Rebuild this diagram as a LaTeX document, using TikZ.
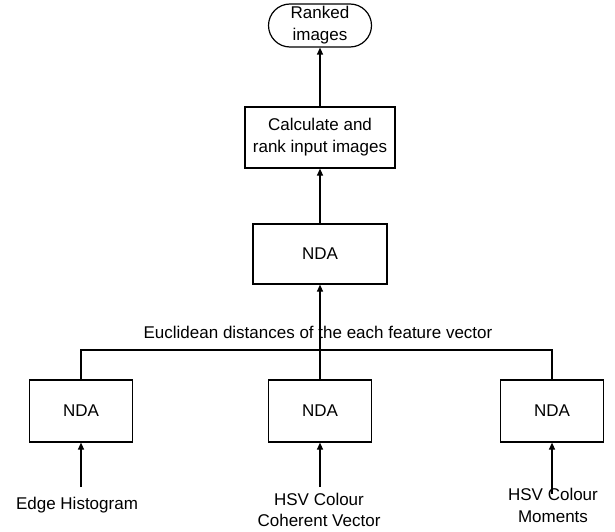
\documentclass[tikz,border=0pt]{standalone}
\usepackage{fontspec}
\setmainfont{Liberation Sans}
\usetikzlibrary{arrows.meta,shapes.misc}
\begin{document}
\begin{tikzpicture}[x=1pt,y=-1pt,
  txt/.style={font=\fontsize{17}{22}\selectfont, align=center, inner sep=0pt},
  box/.style={txt, draw, line width=1.2pt, rectangle},
  ndabox/.style={box, minimum width=103pt, minimum height=62pt},
  arr/.style={line width=1.2pt, -{Triangle[length=7pt,width=6pt]}},
  ln/.style={line width=1.2pt}]
\useasboundingbox (0,0) rectangle (615,532);
\node[box, rounded rectangle, minimum width=103pt, minimum height=43pt] (rank) at (320,25.5) {Ranked\\images};
\node[box, minimum width=150pt, minimum height=61pt] (calc) at (320,137.5) {Calculate and\\rank input images};
\node[box, minimum width=134pt, minimum height=60pt] (ndaT) at (320,254) {NDA};
\node[ndabox] (ndaL) at (81,411) {NDA};
\node[ndabox] (ndaM) at (320,411) {NDA};
\node[ndabox] (ndaR) at (552,411) {NDA};
\node[txt, anchor=base] (eu) at (318,338) {Euclidean distances of the each feature vector};
\node[txt] (edge) at (77,505) {Edge Histogram};
\node[txt, font=\fontsize{17}{21}\selectfont] (hsvc) at (319,510) {HSV Colour\\Coherent Vector};
\node[txt] (hsvm) at (553,505.5) {HSV Colour\\Moments};
\coordinate (bus) at (320,350);
\coordinate (sL) at (81,487);
\coordinate (sM) at (320,487);
\coordinate (sR) at (552,494);
\draw[arr] (calc.north) -- (rank.south);
\draw[arr] (ndaT.north) -- (calc.south);
\draw[arr] (ndaM.north) -- (ndaT.south);
\draw[ln] (ndaL.north) |- (bus) -| (ndaR.north);
\draw[arr] (sL) -- (ndaL.south);
\draw[arr] (sM) -- (ndaM.south);
\draw[arr] (sR) -- (ndaR.south);
\end{tikzpicture}
\end{document}
